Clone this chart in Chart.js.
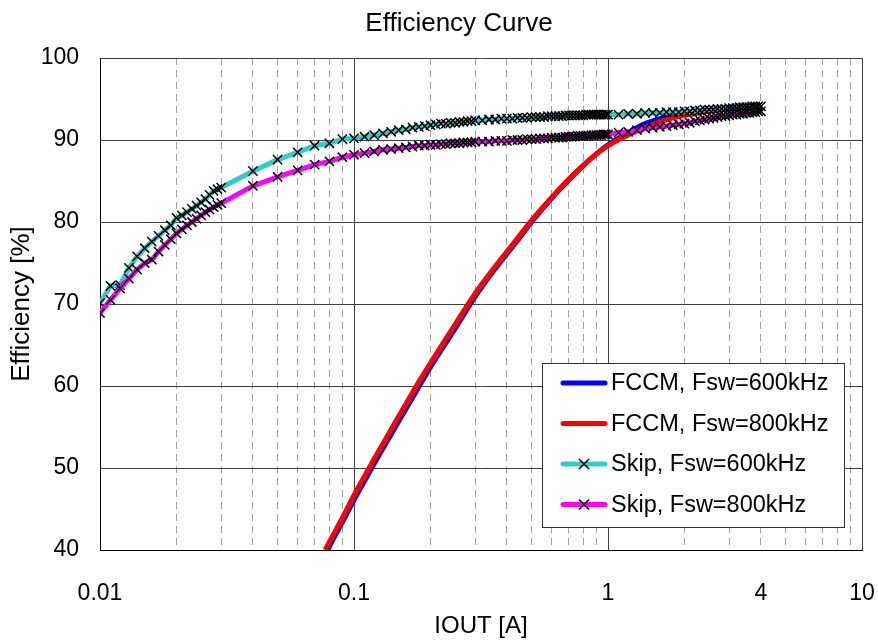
<!DOCTYPE html>
<html>
<head>
<meta charset="utf-8">
<script src="https://cdn.jsdelivr.net/npm/chart.js@4.4.1/dist/chart.umd.min.js"></script>
<style>
    html, body { margin: 0; padding: 0; background: #fff; }
</style>
</head>
<body>
<canvas id="eff-chart" width="878" height="642"></canvas>
<script>
const FONT = '"Liberation Sans", Arial, sans-serif';
const BLUE = '#0000FF';
const RED = '#FF0000';
const CYAN = '#33CCCC';
const MAGENTA = '#FF00FF';

// ejes
const X_TICKS = [0.01, 0.1, 1, 4, 10];
const X_MINOR = [0.02, 0.03, 0.04, 0.05, 0.06, 0.07, 0.08, 0.09,
    0.2, 0.3, 0.4, 0.5, 0.6, 0.7, 0.8, 0.9,
    2, 3, 4, 5, 6, 7, 8, 9];
const Y_MIN = 40;
const Y_MAX = 100;

// FCCM
const FCCM600_IOUT = [0.079, 0.08, 0.09, 0.1, 0.11, 0.12, 0.14, 0.16, 0.18, 0.2, 0.25, 0.3, 0.35, 0.4, 0.45, 0.5,
    0.6, 0.7, 0.8, 0.9, 1.0, 1.2, 1.4, 1.6, 1.8, 2.0, 2.5, 3.0, 3.5, 4.0];
const FCCM600_EFF = [40.0, 40.4, 43.4, 46.1, 48.4, 50.5, 54.1, 57.2, 59.9, 62.3, 67.0, 70.9, 73.8, 76.1, 78.1, 80.0,
    82.9, 85.1, 86.9, 88.3, 89.4, 90.9, 92.0, 92.6, 93.0, 93.3, 93.7, 94.0, 94.1, 94.2];
const FCCM800_IOUT = [0.077, 0.08, 0.09, 0.1, 0.11, 0.12, 0.14, 0.16, 0.18, 0.2, 0.25, 0.3, 0.35, 0.4, 0.45, 0.5,
    0.6, 0.7, 0.8, 0.9, 1.0, 1.2, 1.4, 1.6, 1.8, 2.0, 2.5, 3.0, 3.5, 4.0];
const FCCM800_EFF = [40.0, 41.0, 43.9, 46.7, 49.0, 51.1, 54.7, 57.8, 60.5, 62.8, 67.5, 71.3, 74.1, 76.4, 78.4, 80.2,
    83.0, 85.2, 86.9, 88.3, 89.3, 90.6, 91.5, 92.2, 92.7, 93.0, 93.5, 93.8, 94.0, 94.1];

// Skip (mismos puntos de corriente para ambas frecuencias)
const SKIP_IOUT = [
    0.010, 0.011, 0.012, 0.013, 0.014, 0.015, 0.016, 0.017, 0.018, 0.019, 0.020,
    0.021, 0.022, 0.023, 0.024, 0.025, 0.026, 0.027, 0.028, 0.029, 0.030,
    0.04, 0.05, 0.06, 0.07, 0.08, 0.09, 0.10,
    0.11, 0.12, 0.13, 0.14, 0.15, 0.16, 0.17, 0.18, 0.19, 0.20,
    0.21, 0.22, 0.23, 0.24, 0.25, 0.26, 0.27, 0.28, 0.29, 0.30,
    0.32, 0.34, 0.36, 0.38, 0.40, 0.42, 0.44, 0.46, 0.48, 0.50,
    0.52, 0.54, 0.56, 0.58, 0.60, 0.62, 0.64, 0.66, 0.68, 0.70,
    0.72, 0.74, 0.76, 0.78, 0.80, 0.82, 0.84, 0.86, 0.88, 0.90,
    0.92, 0.94, 0.96, 0.98, 1.00,
    1.1, 1.2, 1.3, 1.4, 1.5, 1.6, 1.7, 1.8, 1.9, 2.0,
    2.1, 2.2, 2.3, 2.4, 2.5, 2.6, 2.7, 2.8, 2.9, 3.0,
    3.1, 3.2, 3.3, 3.4, 3.5, 3.6, 3.7, 3.8, 3.9, 4.0,
];
const SKIP600_EFF = [
    70.1, 72.2, 72.3, 74.4, 75.8, 76.8, 77.6, 78.3, 79.0, 79.6, 80.5,
    80.8, 81.2, 81.6, 82.0, 82.4, 82.8, 83.3, 83.8, 84.0, 84.2,
    86.2, 87.6, 88.5, 89.3, 89.6, 90.1, 90.2,
    90.4, 90.6, 90.8, 91.0, 91.2, 91.3, 91.5, 91.6, 91.7, 91.8,
    91.9, 92.0, 92.0, 92.1, 92.1, 92.2, 92.2, 92.3, 92.3, 92.4,
    92.4, 92.5, 92.5, 92.6, 92.6, 92.6, 92.7, 92.7, 92.7, 92.8,
    92.8, 92.8, 92.8, 92.9, 92.9, 92.9, 92.9, 92.9, 93.0, 93.0,
    93.0, 93.0, 93.0, 93.0, 93.0, 93.1, 93.1, 93.1, 93.1, 93.1,
    93.1, 93.1, 93.1, 93.1, 93.1,
    93.1, 93.2, 93.2, 93.3, 93.3, 93.3, 93.4, 93.4, 93.4, 93.5,
    93.5, 93.6, 93.6, 93.7, 93.7, 93.7, 93.8, 93.8, 93.8, 93.9,
    93.9, 93.9, 94.0, 94.0, 94.0, 94.0, 94.1, 94.1, 94.1, 94.1,
];
const SKIP800_EFF = [
    68.9, 70.5, 71.9, 73.1, 74.2, 75.0, 75.4, 76.4, 77.2, 77.9, 78.6,
    79.1, 79.6, 80.0, 80.4, 80.8, 81.2, 81.5, 81.8, 82.1, 82.3,
    84.4, 85.5, 86.3, 87.0, 87.4, 87.9, 88.2,
    88.4, 88.6, 88.8, 88.9, 89.0, 89.1, 89.2, 89.3, 89.3, 89.4,
    89.4, 89.5, 89.5, 89.6, 89.6, 89.6, 89.7, 89.7, 89.7, 89.8,
    89.8, 89.8, 89.9, 89.9, 89.9, 90.0, 90.0, 90.0, 90.1, 90.1,
    90.1, 90.2, 90.2, 90.2, 90.3, 90.3, 90.3, 90.3, 90.4, 90.4,
    90.4, 90.4, 90.5, 90.5, 90.5, 90.5, 90.5, 90.6, 90.6, 90.6,
    90.6, 90.6, 90.7, 90.7, 90.7,
    90.9, 91.0, 91.2, 91.4, 91.5, 91.6, 91.7, 91.8, 91.9, 92.0,
    92.1, 92.3, 92.4, 92.5, 92.6, 92.7, 92.8, 92.9, 92.9, 93.0,
    93.1, 93.1, 93.2, 93.2, 93.3, 93.3, 93.4, 93.4, 93.5, 93.5,
];

const series = (xs, ys) => xs.map((x, i) => ({ x, y: ys[i] }));

// titulo centrado como en la referencia (no sobre el canvas completo)
const titlePlugin = {
    id: 'titleAt',
    afterDraw(chart) {
        const { ctx } = chart;
        ctx.save();
        ctx.font = `26px ${FONT}`;
        ctx.fillStyle = '#000';
        ctx.textAlign = 'center';
        ctx.textBaseline = 'middle';
        ctx.fillText('Efficiency Curve', 459, 24);
        ctx.restore();
    },
};

// leyenda con recuadro dentro del area del grafico
const boxLegend = {
    id: 'boxLegend',
    afterDatasetsDraw(chart) {
        const { ctx, chartArea } = chart;
        const w = 302;
        const h = 164;
        const left = chartArea.right - 18 - w;
        const top = chartArea.bottom - 23 - h;

        ctx.save();
        ctx.fillStyle = '#fff';
        ctx.fillRect(left, top, w, h);
        ctx.strokeStyle = '#333';
        ctx.lineWidth = 1;
        ctx.strokeRect(left + 0.5, top + 0.5, w, h);

        chart.data.datasets.forEach((ds, i) => {
            const y = top + 20 + i * 40.5;
            ctx.strokeStyle = ds.borderColor;
            ctx.lineWidth = 5;
            ctx.lineCap = 'round';
            ctx.beginPath();
            ctx.moveTo(left + 21, y);
            ctx.lineTo(left + 63, y);
            ctx.stroke();

            if (ds.pointRadius > 0) {
                const c = left + 42;
                const r = 5;
                ctx.strokeStyle = '#000';
                ctx.lineWidth = 1.5;
                ctx.lineCap = 'butt';
                ctx.beginPath();
                ctx.moveTo(c - r, y - r);
                ctx.lineTo(c + r, y + r);
                ctx.moveTo(c - r, y + r);
                ctx.lineTo(c + r, y - r);
                ctx.stroke();
            }

            ctx.fillStyle = '#000';
            ctx.font = `23.5px ${FONT}`;
            ctx.textAlign = 'left';
            ctx.textBaseline = 'middle';
            ctx.fillText(ds.label, left + 69, y + 1);
        });
        ctx.restore();
    },
};

const tickFont = { family: FONT, size: 23 };

new Chart(document.getElementById('eff-chart'), {
    type: 'line',
    data: {
        datasets: [
            {
                label: 'FCCM, Fsw=600kHz',
                data: series(FCCM600_IOUT, FCCM600_EFF),
                borderColor: BLUE,
                borderWidth: 5,
                pointRadius: 0,
                cubicInterpolationMode: 'monotone',
                order: 3,
            },
            {
                label: 'FCCM, Fsw=800kHz',
                data: series(FCCM800_IOUT, FCCM800_EFF),
                borderColor: RED,
                borderWidth: 5,
                pointRadius: 0,
                cubicInterpolationMode: 'monotone',
                order: 2,
            },
            {
                label: 'Skip, Fsw=600kHz',
                data: series(SKIP_IOUT, SKIP600_EFF),
                borderColor: CYAN,
                borderWidth: 5,
                pointStyle: 'crossRot',
                pointRadius: 6.5,
                pointBorderColor: '#000',
                pointBorderWidth: 1.5,
                order: 1,
            },
            {
                label: 'Skip, Fsw=800kHz',
                data: series(SKIP_IOUT, SKIP800_EFF),
                borderColor: MAGENTA,
                borderWidth: 5,
                pointStyle: 'crossRot',
                pointRadius: 6.5,
                pointBorderColor: '#000',
                pointBorderWidth: 1.5,
                order: 0,
            },
        ],
    },
    options: {
        responsive: false,
        animation: false,
        events: [],
        layout: { padding: { left: 0, right: 16, top: 58, bottom: 0 } },
        plugins: {
            legend: { display: false },
            tooltip: { enabled: false },
            title: { display: false },
        },
        scales: {
            x: {
                type: 'logarithmic',
                min: 0.01,
                max: 10,
                position: 'bottom',
                afterBuildTicks: (s) => { s.ticks = X_TICKS.map((v) => ({ value: v })); },
                afterFit: (s) => {
                    s.height = 92;
                    s.paddingLeft = 0;
                    s.paddingRight = 0;
                },
                ticks: {
                    autoSkip: false,
                    maxRotation: 0,
                    padding: 30,
                    color: '#000',
                    font: tickFont,
                    callback: (v) => String(v),
                },
                grid: {
                    color: (ctx) => (ctx.tick && ctx.tick.value === 4 ? 'rgba(0,0,0,0)' : '#404040'),
                    drawTicks: false,
                },
                border: { color: '#000' },
                title: {
                    display: true,
                    text: 'IOUT [A]',
                    color: '#000',
                    font: { family: FONT, size: 24 },
                    padding: { top: 0, bottom: 1 },
                },
            },
            xMinor: {
                type: 'logarithmic',
                min: 0.01,
                max: 10,
                position: 'top',
                afterBuildTicks: (s) => { s.ticks = X_MINOR.map((v) => ({ value: v })); },
                afterFit: (s) => {
                    s.height = 0;
                    s.paddingLeft = 0;
                    s.paddingRight = 0;
                },
                ticks: { display: false },
                grid: { color: '#a0a0a0', drawTicks: false },
                border: { display: false, dash: [7, 5] },
            },
            y: {
                type: 'linear',
                min: Y_MIN,
                max: Y_MAX,
                afterFit: (s) => { s.width = 100; },
                ticks: { stepSize: 10, padding: 21, color: '#000', font: tickFont },
                grid: { color: '#404040', drawTicks: false },
                border: { color: '#000' },
                title: {
                    display: true,
                    text: 'Efficiency [%]',
                    color: '#000',
                    font: { family: FONT, size: 26 },
                    padding: { top: 6, bottom: 0 },
                },
            },
        },
    },
    plugins: [titlePlugin, boxLegend],
});
</script>
</body>
</html>
